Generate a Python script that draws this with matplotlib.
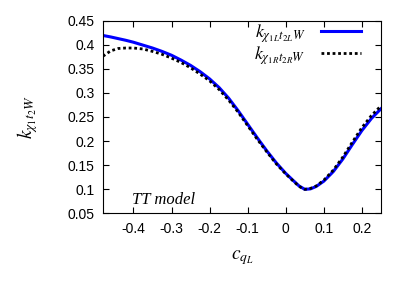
#!/usr/bin/env python3

import numpy as np
import matplotlib
matplotlib.use("Agg")
import matplotlib.pyplot as plt

# values
c_qL = [-0.48, -0.46, -0.44, -0.42, -0.40, -0.375, -0.35, -0.325, -0.30, -0.275,
        -0.25, -0.225, -0.20, -0.175, -0.15, -0.125, -0.10, -0.075, -0.05, -0.025,
        0.00, 0.02, 0.035, 0.05, 0.065, 0.08, 0.10, 0.125, 0.15, 0.175,
        0.20, 0.225, 0.25]
k_L = [0.419, 0.416, 0.4125, 0.409, 0.405, 0.399, 0.393, 0.386, 0.378, 0.368,
       0.357, 0.344, 0.329, 0.311, 0.289, 0.263, 0.235, 0.207, 0.180, 0.155,
       0.133, 0.118, 0.107, 0.100, 0.101, 0.106, 0.117, 0.137, 0.163, 0.193,
       0.222, 0.247, 0.267]
k_R = [0.376, 0.387, 0.392, 0.393, 0.393, 0.391, 0.386, 0.380, 0.372, 0.363,
       0.352, 0.339, 0.325, 0.307, 0.285, 0.260, 0.232, 0.204, 0.178, 0.153,
       0.132, 0.117, 0.106, 0.100, 0.102, 0.107, 0.119, 0.140, 0.167, 0.198,
       0.228, 0.253, 0.273]

x_ticks = [-0.4, -0.3, -0.2, -0.1, 0, 0.1, 0.2]
x_tick_labels = ["-0.4", "-0.3", "-0.2", "-0.1", "0", "0.1", "0.2"]
y_ticks = [0.05, 0.1, 0.15, 0.2, 0.25, 0.3, 0.35, 0.4, 0.45]
y_tick_labels = ["0.05", "0.1", "0.15", "0.2", "0.25", "0.3", "0.35", "0.4", "0.45"]

plt.rcParams["mathtext.fontset"] = "stix"
plt.rcParams["font.family"] = ["Liberation Sans", "DejaVu Sans"]

fig = plt.figure(figsize=(4.07, 2.85), dpi=100)
ax = fig.add_axes([0.253, 0.251, 0.683, 0.677])

ax.plot(c_qL, k_L, color="#0000ff", lw=2.2,
        label=r"$k_{\chi_{1L}t_{2L}W}$")
ax.plot(c_qL, k_R, color="black", lw=2.0, linestyle=(0, (1.0, 1.0)),
        label=r"$k_{\chi_{1R}t_{2R}W}$")

ax.set_xlim(-0.48, 0.25)
ax.set_ylim(0.05, 0.45)
ax.set_xticks(x_ticks)
ax.set_xticklabels(x_tick_labels)
ax.set_yticks(y_ticks)
ax.set_yticklabels(y_tick_labels)
ax.tick_params(direction="in", top=True, right=True, length=4, width=0.8,
               labelsize=10, pad=6, colors="black")

ax.set_xlabel(r"$c_{q_L}$", fontsize=14, labelpad=9)
ax.set_ylabel(r"$k_{\chi_{1}t_{2}W}$", fontsize=14, labelpad=20)

ax.text(-0.405, 0.078, "TT model", family="Liberation Serif", style="italic",
        fontsize=12, va="center", ha="left")

leg = ax.legend(loc="upper right", bbox_to_anchor=(0.955, 1.03),
                markerfirst=False, frameon=False,
                fontsize=13, handlelength=2.2, borderaxespad=0.0,
                labelspacing=0.0, handletextpad=0.9)
for t in leg.get_texts():
    t.set_ha("right")

fig.savefig("out.png", dpi=100)
